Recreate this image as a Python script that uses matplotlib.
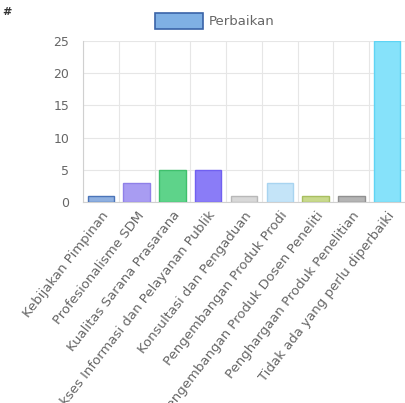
import numpy as np
import matplotlib.pyplot as plt
from matplotlib.patches import Patch

# data
kategori = ['Kebijakan Pimpinan', 'Profesionalisme SDM', 'Kualitas Sarana Prasarana',
            'Akses Informasi dan Pelayanan Publik', 'Konsultasi dan Pengaduan',
            'Pengembangan Produk Prodi', 'Pengembangan Produk Dosen Peneliti',
            'Penghargaan Produk Penelitian', 'Tidak ada yang perlu diperbaiki']
jumlah = [1, 3, 5, 5, 1, 3, 1, 1, 25]
warna = ['#8fb0e0', '#a89cf2', '#5ed38a', '#8a7cf7', '#d8d8d8',
         '#c4e4f8', '#c8d98c', '#b4b4b4', '#86e2fa']
garis = ['#4a74b8', '#8f80e8', '#3fbf6c', '#7060f0', '#b8b8b8',
         '#a8d4f0', '#a8be60', '#909090', '#5ed4f4']
judul_legend = 'Perbaikan'

fig = plt.figure(figsize=(4.05, 4.03), dpi=100)
ax = fig.add_axes([83/405, 1-202/403, 322/405, 161/403])

x = np.arange(len(kategori))
ax.bar(x, jumlah, width=0.74, color=warna, edgecolor=garis, linewidth=1.0, zorder=3)

ax.set_xlim(-0.5, len(kategori) - 0.5)
ax.set_ylim(0, 25)
ax.set_yticks([0, 5, 10, 15, 20, 25])
ax.set_xticks(x)
ax.set_xticklabels(kategori, rotation=52, ha='right', rotation_mode='anchor',
                   fontsize=9.5, color='#666666')
ax.tick_params(axis='y', labelsize=9, colors='#666666', length=0, pad=10)
ax.tick_params(axis='x', length=0, pad=5)

# grid ala chart.js
ax.set_xticks(np.arange(-0.5, len(kategori), 1), minor=True)
ax.grid(True, which='minor', axis='x', color='#e6e6e6', linewidth=0.8, zorder=0)
ax.grid(True, which='major', axis='y', color='#e6e6e6', linewidth=0.8, zorder=0)
ax.tick_params(which='minor', length=0)
for s in ['top', 'right']:
    ax.spines[s].set_visible(False)
ax.spines['left'].set_color('#d0d0d0')
ax.spines['bottom'].set_color('#d0d0d0')

leg = fig.legend(handles=[Patch(facecolor='#7fb0e4', edgecolor='#3a64a8', linewidth=1.2,
                                label=judul_legend)],
                 loc='center', bbox_to_anchor=(215/405, 1-21/403), frameon=False,
                 fontsize=9.5, handlelength=3.6, handleheight=1.4, handletextpad=0.5)
for t in leg.get_texts():
    t.set_color('#666666')

fig.text(2/405, 1-12/403, '#', fontsize=8, fontweight='bold', color='#333333',
         ha='left', va='center')

fig.savefig('out.png', dpi=100)
